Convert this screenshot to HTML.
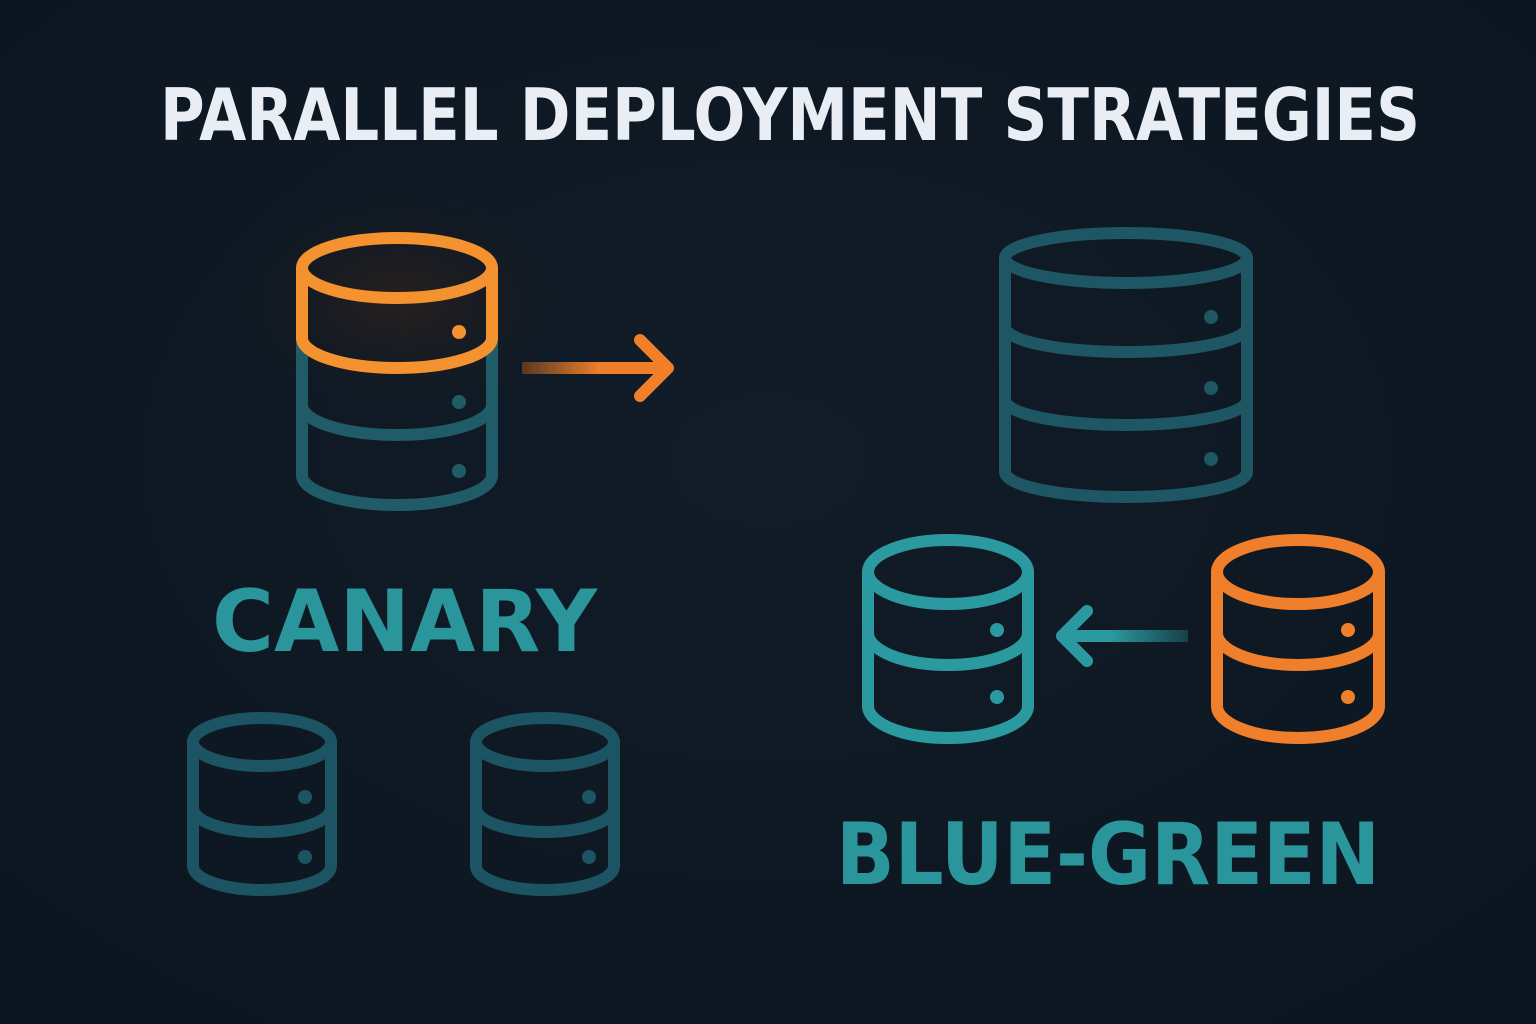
<!DOCTYPE html>
<html><head><meta charset="utf-8"><style>
html,body{margin:0;padding:0;background:#0e1822;}
svg{display:block}
text{font-family:"DejaVu Sans","Liberation Sans",sans-serif;font-weight:bold}
</style></head><body>
<svg width="1536" height="1024" viewBox="0 0 1536 1024">
<defs>
<radialGradient id="bg" cx="0.5" cy="0.45" r="0.7">
<stop offset="0" stop-color="#111c28"/><stop offset="1" stop-color="#0c1620"/>
</radialGradient>
<radialGradient id="glow" cx="0.5" cy="0.5" r="0.5">
<stop offset="0" stop-color="#3a2418" stop-opacity="0.6"/><stop offset="1" stop-color="#0e1822" stop-opacity="0"/>
</radialGradient>
<linearGradient id="ag1" x1="522" x2="600" y1="0" y2="0" gradientUnits="userSpaceOnUse">
<stop offset="0" stop-color="#f07f2a" stop-opacity="0.3"/><stop offset="1" stop-color="#f07f2a"/>
</linearGradient>
<linearGradient id="ag2" x1="1188" x2="1110" y1="0" y2="0" gradientUnits="userSpaceOnUse">
<stop offset="0" stop-color="#2b9aa0" stop-opacity="0.3"/><stop offset="1" stop-color="#2b9aa0"/>
</linearGradient>
</defs>
<rect width="1536" height="1024" fill="url(#bg)"/>
<ellipse cx="400" cy="300" rx="200" ry="130" fill="url(#glow)"/>

<text x="790" y="140" text-anchor="middle" font-size="72" fill="#e8eef3" textLength="1260" lengthAdjust="spacingAndGlyphs">PARALLEL DEPLOYMENT STRATEGIES</text>

<g fill="none" stroke-width="12" stroke-linecap="round">
<!-- canary big DB teal part -->
<g stroke="#1f5c68">
<path d="M302,338 L302,475 A95,30 0 0 0 492,475 L492,338"/>
<path d="M302,405 A95,30 0 0 0 492,405"/>
</g>
<g stroke="#f3922f">
<ellipse cx="397" cy="268" rx="95" ry="30"/>
<path d="M302,268 L302,338 A95,30 0 0 0 492,338 L492,268"/>
</g>
<!-- canary arrow -->
<path d="M522,368 L668,368" stroke="url(#ag1)" stroke-linecap="butt"/>
<path d="M640,340 L668,368 L640,396" stroke="#f07f2a" stroke-linejoin="round"/>

<!-- right top DB -->
<g stroke="#1e5663">
<ellipse cx="1126" cy="258" rx="121" ry="25"/>
<path d="M1005,258 L1005,472 A121,25 0 0 0 1247,472 L1247,258"/>
<path d="M1005,327 A121,25 0 0 0 1247,327"/>
<path d="M1005,400 A121,25 0 0 0 1247,400"/>
</g>

<!-- blue-green teal DB -->
<g stroke="#2b9aa0">
<ellipse cx="948" cy="572" rx="80" ry="32"/>
<path d="M868,572 L868,706 A80,32 0 0 0 1028,706 L1028,572"/>
<path d="M868,633 A80,32 0 0 0 1028,633"/>
</g>
<!-- orange DB -->
<g stroke="#ef7f2a">
<ellipse cx="1298" cy="572" rx="81" ry="32"/>
<path d="M1217,572 L1217,706 A81,32 0 0 0 1379,706 L1379,572"/>
<path d="M1217,633 A81,32 0 0 0 1379,633"/>
</g>
<!-- left arrow -->
<path d="M1062,636 L1188,636" stroke="url(#ag2)" stroke-linecap="butt"/>
<path d="M1087,611 L1062,636 L1087,661" stroke="#2b9aa0" stroke-linejoin="round"/>

<!-- small DBs -->
<g stroke="#1d5464">
<ellipse cx="262" cy="742" rx="69" ry="24"/>
<path d="M193,742 L193,866 A69,24 0 0 0 331,866 L331,742"/>
<path d="M193,808 A69,24 0 0 0 331,808"/>
<ellipse cx="545" cy="742" rx="69" ry="24"/>
<path d="M476,742 L476,866 A69,24 0 0 0 614,866 L614,742"/>
<path d="M476,808 A69,24 0 0 0 614,808"/>
</g>
</g>

<!-- dots -->
<circle cx="459" cy="332" r="7" fill="#f3922f"/>
<circle cx="459" cy="402" r="7" fill="#1f5c68"/>
<circle cx="459" cy="471" r="7" fill="#1f5c68"/>
<circle cx="1211" cy="317" r="7" fill="#1e5663"/>
<circle cx="1211" cy="388" r="7" fill="#1e5663"/>
<circle cx="1211" cy="459" r="7" fill="#1e5663"/>
<circle cx="997" cy="630" r="7" fill="#2b9aa0"/>
<circle cx="997" cy="697" r="7" fill="#2b9aa0"/>
<circle cx="1348" cy="630" r="7" fill="#ef7f2a"/>
<circle cx="1348" cy="697" r="7" fill="#ef7f2a"/>
<circle cx="305" cy="797" r="7" fill="#1d5464"/>
<circle cx="305" cy="857" r="7" fill="#1d5464"/>
<circle cx="589" cy="797" r="7" fill="#1d5464"/>
<circle cx="589" cy="857" r="7" fill="#1d5464"/>

<text x="212" y="651" font-size="86" fill="#2a969c" textLength="385" lengthAdjust="spacingAndGlyphs">CANARY</text>
<text x="836" y="884" font-size="86" fill="#2a969c" textLength="544" lengthAdjust="spacingAndGlyphs">BLUE-GREEN</text>
</svg>
</body></html>
